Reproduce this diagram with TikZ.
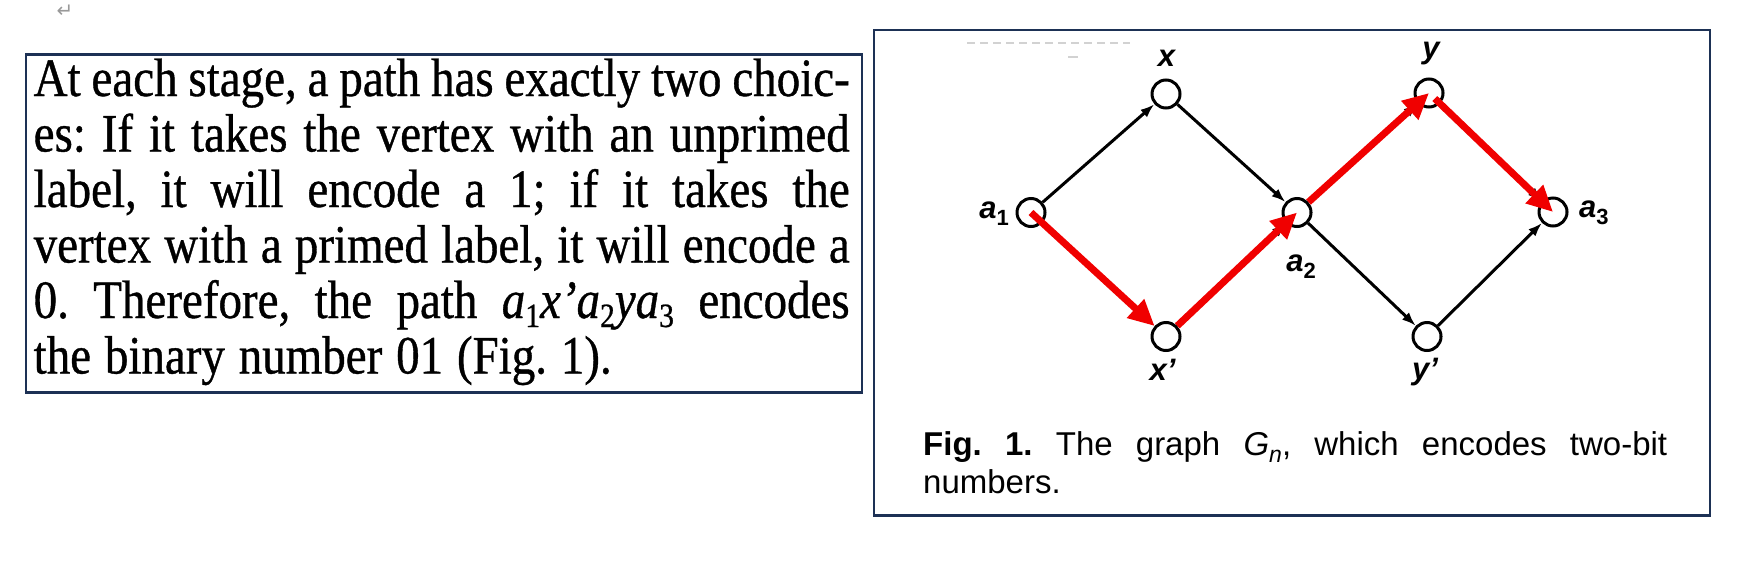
\documentclass[tikz,border=0pt]{standalone}
\usepackage{fontspec}
\setmainfont{Liberation Serif}
\setsansfont{Liberation Sans}
\newfontfamily\bookfont{Liberation Serif}[FakeStretch=0.87,FakeBold=0.7,WordSpace=0.7]
\newfontfamily\djv{DejaVu Sans}
\usetikzlibrary{arrows.meta,calc}
\definecolor{boxnavy}{HTML}{1D3155}
\definecolor{pathred}{HTML}{F00000}
\newcommand\lowsub[3]{\raisebox{-#2}{\fontsize{#1}{#1}\selectfont #3}}
\begin{document}
\begin{tikzpicture}[x=1pt,y=-1pt,
  vert/.style={circle,draw,line width=3pt,minimum size=28pt,inner sep=0pt},
  blk/.style={line width=3pt,-{Latex[length=14pt,width=10pt]}},
  redarr/.style={pathred,line width=7pt,-{Triangle[length=26pt,width=24pt]}},
  panel/.style={draw=boxnavy,line width=2.5pt},
  lbl/.style={font=\fontsize{31}{31}\selectfont\sffamily\bfseries\itshape,inner sep=0pt,anchor=base},
  para/.style={font=\frenchspacing\bookfont\fontsize{54}{54}\selectfont,inner sep=0pt,anchor=base west},
  capt/.style={font=\frenchspacing\sffamily\fontsize{33}{33}\selectfont,inner sep=0pt,anchor=base west}
]
\useasboundingbox (0,0) rectangle (1758,568);

% return mark
\node[font=\djv\fontsize{20}{20}\selectfont,text=gray!80,inner sep=0pt] (ret) at (65,11) {↵};

% panels
\draw[panel] (26,54.5) rectangle (862,392.5);
\draw[panel] (874,30) rectangle (1710,515.7);

% faint scan remnants
\draw[gray!35,line width=1.5pt,dash pattern=on 8pt off 5pt] (967,43) -- (1130,43);
\draw[gray!35,line width=1.5pt] (1068,57) -- (1078,57);

% paragraph
\node[para] (p1) at (33.5,96) {\makebox[816pt][s]{At each stage, a path has exactly two choic-}};
\node[para] (p2) at (33.5,151.5) {\makebox[816pt][s]{es: If it takes the vertex with an unprimed}};
\node[para] (p3) at (33.5,207) {\makebox[816pt][s]{label, it will encode a 1; if it takes the}};
\node[para] (p4) at (33.5,262.5) {\makebox[816pt][s]{vertex with a primed label, it will encode a}};
\node[para] (p5) at (33.5,318) {\makebox[816pt][s]{0. Therefore, the path {\itshape a\lowsub{34}{9pt}{\upshape 1}x’a\lowsub{34}{9pt}{\upshape 2}ya\lowsub{34}{9pt}{\upshape 3}} encodes}};
\node[para] (p6) at (33.5,373.5) {\makebox[578pt][s]{the binary number 01 (Fig. 1).}};

% graph vertices
\node[vert] (a1) at (1031,212.5) {};
\node[vert] (x)  at (1166,94) {};
\node[vert] (xp) at (1166,336.5) {};
\node[vert] (a2) at (1297,212.5) {};
\node[vert] (y)  at (1429,93) {};
\node[vert] (yp) at (1427,336.5) {};
\node[vert] (a3) at (1553,212) {};

% labels
\node[lbl] (lx) at (1166.5,66) {x};
\node[lbl] (ly) at (1431,58) {y};
\node[lbl,anchor=base east] (la1) at (1009,218) {a\lowsub{22}{7pt}{\upshape 1}};
\node[lbl] (la2) at (1301,271.5) {a\lowsub{22}{7pt}{\upshape 2}};
\node[lbl,anchor=base west] (la3) at (1579,217.7) {a\lowsub{22}{7pt}{\upshape 3}};
\node[lbl] (lxp) at (1162.5,380) {x’};
\node[lbl] (lyp) at (1425,379) {y’};

% black edges
\draw[blk] (a1) -- (x);
\draw[blk] (a1) -- (xp);
\draw[blk] (x) -- (a2);
\draw[blk] (xp) -- (a2);
\draw[blk] (a2) -- (y);
\draw[blk] (a2) -- (yp);
\draw[blk] (y) -- (a3);
\draw[blk] (yp) -- (a3);

% red path
\draw[redarr] (a1.center) -- (xp);
\draw[redarr] (xp) -- (a2.center);
\draw[redarr] (a2) -- (y.center);
\draw[redarr] ($(y.center)!8pt!(a3.center)$) -- (a3.center);

% caption
\node[capt] (cap1) at (923,455) {\makebox[744pt][s]{\textbf{Fig. 1.} The graph \textit{G}\lowsub{23}{7pt}{\itshape n}, which encodes two-bit}};
\node[capt] (cap2) at (923,493) {numbers.};
\end{tikzpicture}
\end{document}
